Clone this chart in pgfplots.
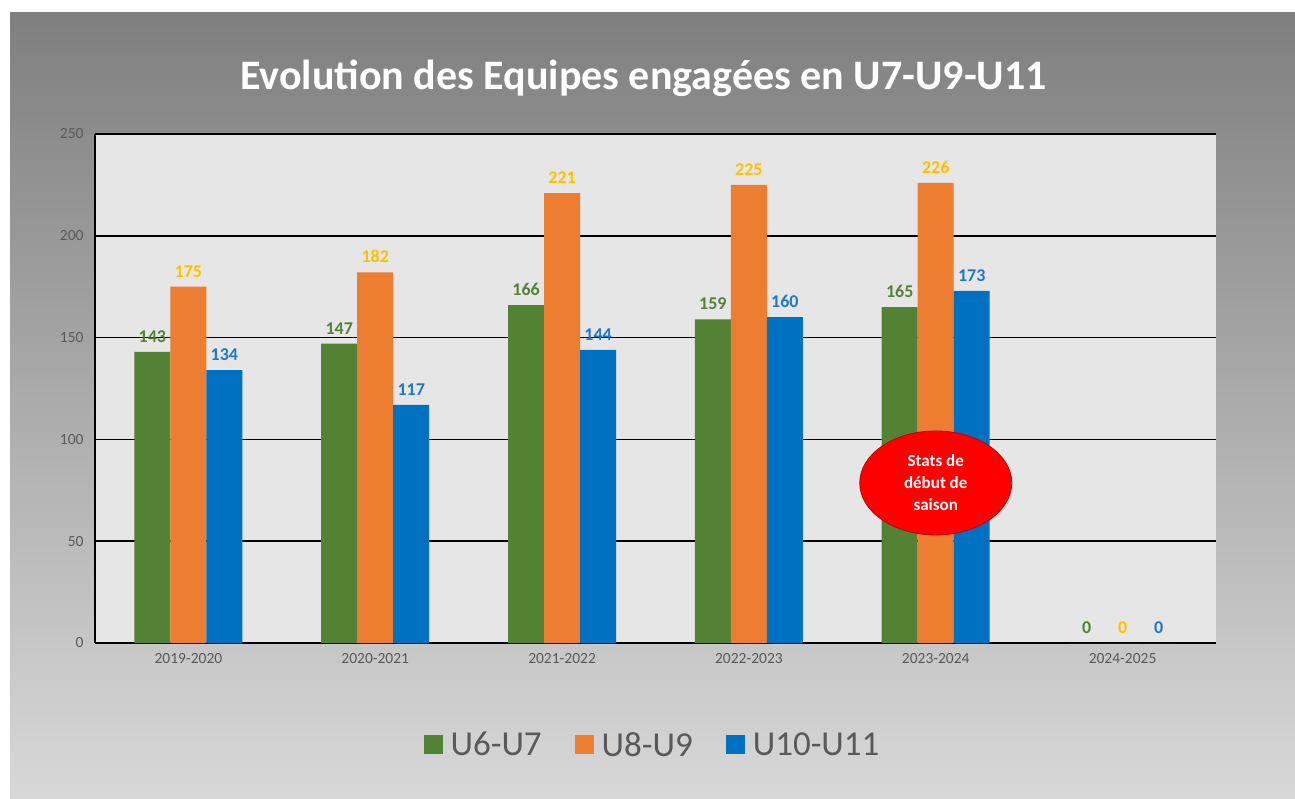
\documentclass[border=0pt]{standalone}
\usepackage{pgfplots}
\pgfplotsset{compat=1.18}
\usepackage{fontspec}
\setmainfont{Carlito}
\definecolor{cgreen}{HTML}{548235}
\definecolor{corange}{HTML}{ED7D31}
\definecolor{cblue}{HTML}{0070C0}
\definecolor{cgold}{HTML}{FFC000}
\definecolor{lblue}{HTML}{1F77C8}
\definecolor{plotbg}{HTML}{E7E6E6}
\definecolor{bgtop}{HTML}{7F7F7F}
\definecolor{bgbot}{HTML}{D8D8D8}
\definecolor{tickgray}{HTML}{595959}
\definecolor{ellred}{HTML}{FF0000}
\definecolor{ellborder}{HTML}{C00000}
\begin{document}
\begin{tikzpicture}[x=1pt,y=1pt]
\useasboundingbox (0,0) rectangle (1295,798);
\fill[white] (0,0) rectangle (1295,798);
\shade[top color=bgtop, bottom color=bgbot] (10,0) rectangle (1295,785);
\node[text=white, font=\bfseries\fontsize{42}{48}\selectfont] at (643.5,720) {Evolution des Equipes engagées en U7-U9-U11};
\begin{axis}[
  at={(95pt,155pt)}, anchor=south west,
  scale only axis, width=1121pt, height=509pt,
  ybar=0pt, bar width=36pt,
  xmin=-0.5, xmax=5.5, ymin=0, ymax=250,
  xtick={0,1,2,3,4,5},
  xticklabels={2019-2020,2020-2021,2021-2022,2022-2023,2023-2024,2024-2025},
  ytick={0,50,100,150,200,250},
  ymajorgrids,
  major grid style={black, line width=1.5pt},
  axis background/.style={fill=plotbg},
  axis lines=left,
  axis line style={-, black, line width=1.5pt},
  tick style={draw=none},
  major tick length=0pt,
  tick label style={font=\fontsize{15.5}{18}\selectfont, text=tickgray},
  /pgf/number format/assume math mode=true,
  yticklabel style={xshift=-8pt},
  xticklabel style={yshift=-7pt},
  legend style={at={(0.5,-0.2)}, anchor=center, draw=none, fill=none,
    legend columns=-1, font=\fontsize{35}{40}\selectfont, text=tickgray,
    /tikz/every even column/.append style={column sep=25pt},
    nodes={inner xsep=8pt}},
  legend image code/.code={\fill[#1] (0pt,-9.5pt) rectangle (19pt,9.5pt);},
  nodes near coords,
  every node near coord/.append style={font=\bfseries\fontsize{18}{21}\selectfont, yshift=6pt},
]
\addplot[fill=cgreen, draw=none, every node near coord/.append style={text=cgreen}] coordinates {(0,143) (1,147) (2,166) (3,159) (4,165) (5,0)};
\addplot[fill=corange, draw=none, every node near coord/.append style={text=cgold}] coordinates {(0,175) (1,182) (2,221) (3,225) (4,226) (5,0)};
\addplot[fill=cblue, draw=none, every node near coord/.append style={text=lblue}] coordinates {(0,134) (1,117) (2,144) (3,160) (4,173) (5,0)};
\legend{U6-U7,U8-U9,U10-U11}
\filldraw[fill=ellred, draw=ellborder, line width=0.8pt] (axis cs:4,78.6) ellipse [x radius=76pt, y radius=52pt];
\node[align=center, text=white, font=\bfseries\fontsize{17}{22}\selectfont] at (axis cs:4,78.6) {Stats de\\début de\\saison};
\end{axis}
\end{tikzpicture}
\end{document}
